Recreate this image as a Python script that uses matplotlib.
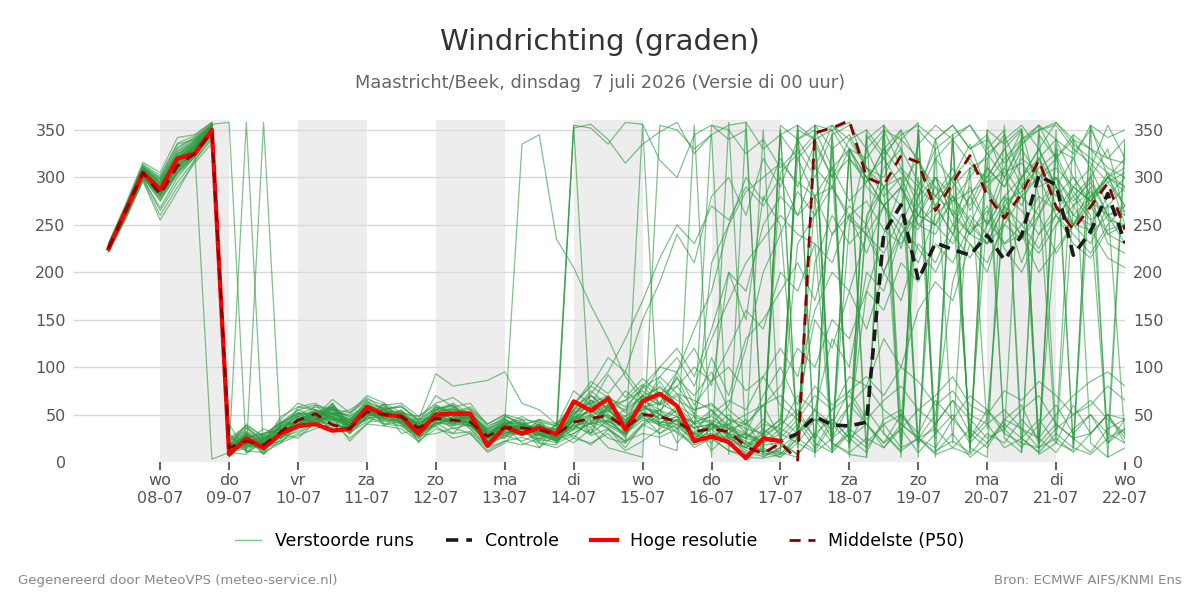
import matplotlib
matplotlib.use("Agg")
import matplotlib.pyplot as plt
from matplotlib.lines import Line2D

# ---------------- data ----------------
# time in days since 07-07-2026 00:00, 6-hourly steps starting 07-07 06:00
times = [0.25 + 0.25 * i for i in range(60)]

tick_days = list(range(1, 16))
tick_labels = ["wo\n08-07", "do\n09-07", "vr\n10-07", "za\n11-07", "zo\n12-07",
               "ma\n13-07", "di\n14-07", "wo\n15-07", "do\n16-07", "vr\n17-07",
               "za\n18-07", "zo\n19-07", "ma\n20-07", "di\n21-07", "wo\n22-07"]
shade_days = [1, 3, 5, 7, 9, 11, 13]   # start of shaded day bands

hires = [225, 265, 305, 287, 320, 325, 350,
         8, 25, 15, 30, 38, 40, 33, 35, 58, 50, 48, 30, 50, 51, 51, 17, 37, 30, 36, 29,
         64, 54, 67, 34, 64, 72, 59, 22, 27, 21, 4, 25, 22]

control = [225, 265, 305, 287, 320, 325, 350,
           8, 25, 15, 30, 38, 40, 33, 35, 58, 50, 48, 30, 50, 51, 51, 17, 37, 30, 36, 29,
           64, 54, 67, 34, 64, 72, 59, 22, 27, 21, 4, 25,
           22, 30, 48, 39, 38, 42, 241, 271, 192, 231, 224, 218, 239, 213, 239, 302,
           292, 218, 243, 283, 231]

median = [225, 265, 305, 282, 312, 325, 348,
          15, 22, 18, 32, 44, 51, 39, 35, 53, 50, 48, 36, 46, 44, 42, 27, 36, 36, 34, 29,
          42, 46, 49, 36, 50, 48, 42, 32, 35, 32, 16, 9,
          20, 2, 347, 352, 360, 300, 292, 323, 316, 265, 294, 323, 281, 257, 283, 318,
          269, 245, 269, 294, 245]

# perturbed ensemble members (wind direction, degrees)
m01 = [228, 266, 306, 290, 318, 330, 352,
       12, 30, 8, 40, 52, 38, 60, 30, 48, 62, 40, 22, 55, 60, 35, 15, 42, 28, 45, 20,
       55, 30, 70, 40, 62, 85, 58, 30, 20, 45, 15, 30,
       45, 320, 280, 20, 250, 330, 290, 15, 280, 340, 270, 30, 260, 310, 350, 280, 20, 270, 300, 330, 260]
m02 = [225, 262, 300, 282, 310, 328, 348,
       20, 15, 25, 28, 58, 55, 45, 42, 65, 45, 55, 30, 50, 38, 55, 30, 25, 45, 22, 40,
       35, 60, 48, 25, 70, 40, 55, 22, 40, 30, 8, 12,
       10, 5, 355, 350, 358, 310, 300, 340, 320, 270, 300, 335, 285, 260, 300, 320, 270, 250, 275, 305, 250]
m03 = [230, 270, 312, 300, 335, 340, 355,
       25, 32, 18, 22, 35, 45, 42, 30, 60, 38, 52, 20, 42, 30, 48, 18, 38, 20, 15, 42,
       25, 48, 35, 15, 40, 55, 20, 42, 12, 30, 45, 10,
       20, 40, 15, 45, 25, 10, 45, 55, 20, 40, 65, 30, 15, 45, 60, 20, 40, 25, 10, 35, 45]
m04 = [222, 258, 298, 268, 300, 322, 345,
       5, 22, 15, 20, 40, 48, 35, 32, 58, 40, 38, 25, 60, 48, 45, 22, 30, 38, 20, 18,
       48, 70, 55, 40, 80, 62, 90, 50, 110, 70, 130, 150,
       180, 210, 170, 240, 260, 220, 270, 290, 250, 240, 280, 255, 230, 270, 210, 260, 300, 250, 290, 240, 230]
m05 = [226, 264, 304, 288, 315, 332, 350,
       40, 10, 20, 30, 25, 42, 48, 22, 40, 55, 30, 35, 38, 25, 30, 10, 20, 40, 15, 30,
       20, 35, 15, 10, 5, 355, 350, 330, 345, 8, 358, 5,
       15, 350, 340, 10, 330, 320, 345, 5, 350, 330, 20, 310, 300, 330, 350, 15, 330, 320, 355, 300, 290]
m06 = [228, 268, 310, 295, 325, 338, 354,
       18, 35, 22, 45, 62, 55, 52, 50, 68, 55, 60, 42, 70, 58, 62, 38, 45, 30, 40, 28,
       60, 85, 72, 95, 70, 100, 120, 90, 140, 200, 180, 250,
       280, 260, 310, 290, 330, 300, 270, 290, 250, 270, 300, 320, 290, 310, 280, 260, 290, 250, 230, 270, 290]
m07 = [224, 263, 303, 285, 312, 330, 3,
       10, 8, 25, 35, 45, 40, 55, 38, 48, 52, 45, 28, 42, 55, 40, 25, 48, 42, 30, 22,
       45, 30, 60, 42, 68, 50, 35, 48, 25, 40, 18, 30,
       8, 30, 45, 20, 10, 25, 15, 40, 25, 10, 30, 5, 20, 45, 35, 15, 25, 10, 30, 50, 20]
m08 = [227, 265, 308, 292, 320, 335, 356,
       358, 10, 28, 25, 38, 60, 45, 45, 62, 48, 50, 40, 58, 50, 52, 32, 40, 48, 38, 34,
       50, 65, 45, 55, 70, 60, 80, 100, 85, 120, 160, 140,
       200, 180, 230, 210, 260, 240, 200, 250, 290, 270, 240, 280, 250, 300, 270, 320, 290, 260, 250, 280, 300]
m09 = [223, 260, 302, 280, 305, 325, 350,
       12, 358, 12, 38, 42, 50, 32, 40, 45, 58, 42, 30, 48, 35, 40, 20, 45, 32, 40, 25,
       30, 42, 58, 34, 48, 30, 40, 20, 35, 50, 30, 70,
       100, 60, 150, 120, 180, 140, 200, 170, 230, 210, 250, 230, 200, 260, 240, 220, 250, 270, 240, 260, 230]
m10 = [229, 268, 310, 298, 330, 342, 355,
       20, 12, 358, 25, 48, 42, 62, 35, 50, 60, 45, 40, 52, 40, 50, 30, 28, 40, 25, 35,
       44, 55, 40, 30, 60, 45, 55, 25, 40, 20, 30, 15,
       345, 355, 10, 350, 5, 340, 355, 330, 20, 320, 340, 355, 330, 350, 10, 345, 320, 340, 310, 355, 320]
m11 = [225, 263, 302, 284, 310, 326, 348,
       15, 28, 10, 30, 38, 52, 48, 40, 54, 45, 52, 33, 55, 62, 50, 35, 42, 335, 345, 235,
       205, 165, 130, 90, 65, 80, 60, 40, 55, 35, 25, 45,
       30, 50, 25, 55, 70, 40, 20, 35, 55, 40, 65, 45, 25, 35, 55, 70, 40, 25, 30, 50, 45]
m12 = [226, 266, 306, 290, 316, 330, 352,
       14, 24, 30, 34, 50, 58, 55, 48, 62, 56, 58, 45, 93, 80, 83, 86, 95, 62, 55, 40,
       55, 75, 60, 65, 82, 70, 95, 60, 85, 100, 75, 90,
       60, 45, 70, 55, 90, 80, 130, 100, 160, 190, 170, 230, 210, 250, 235, 260, 220, 250, 270, 240, 250]
m13 = [227, 264, 305, 287, 318, 332, 351,
       16, 20, 28, 42, 40, 45, 58, 38, 55, 52, 46, 42, 44, 50, 38, 28, 35, 40, 32, 38,
       355, 352, 335, 358, 356, 318, 300, 345, 355, 350, 325, 340,
       310, 330, 300, 345, 355, 330, 350, 310, 290, 330, 345, 355, 325, 300, 340, 355, 320, 345, 330, 310, 300]
m14 = [221, 256, 296, 255, 285, 318, 340,
       25, 38, 28, 42, 55, 48, 66, 52, 70, 62, 52, 48, 62, 68, 55, 40, 50, 38, 45, 40,
       60, 80, 110, 95, 150, 190, 240, 210, 280, 300, 260, 320,
       290, 340, 310, 355, 330, 300, 320, 290, 260, 300, 280, 250, 290, 260, 300, 330, 290, 320, 280, 300, 270]
m15 = [224, 262, 300, 275, 305, 322, 346,
       10, 18, 14, 26, 32, 42, 40, 36, 44, 46, 40, 30, 40, 46, 38, 20, 28, 32, 22, 24,
       355, 40, 25, 20, 356, 18, 12, 355, 5, 358, 20, 350,
       15, 355, 5, 345, 20, 350, 30, 10, 355, 5, 345, 15, 5, 355, 25, 10, 350, 15, 355, 5, 15]
m16 = [230, 272, 316, 305, 342, 345, 358,
       22, 38, 20, 48, 58, 62, 50, 55, 66, 60, 62, 48, 60, 52, 58, 40, 50, 45, 42, 38,
       75, 60, 92, 68, 88, 72, 80, 55, 62, 45, 40, 60,
       70, 50, 80, 60, 75, 45, 65, 80, 55, 70, 90, 60, 50, 75, 65, 85, 70, 50, 60, 80, 65]
m17 = [226, 265, 307, 289, 322, 336, 353,
       14, 22, 12, 28, 45, 40, 52, 44, 54, 42, 46, 26, 40, 48, 42, 22, 30, 34, 28, 26,
       40, 28, 35, 20, 38, 50, 30, 18, 25, 12, 8, 15,
       5, 20, 10, 25, 40, 180, 240, 290, 320, 280, 310, 265, 300, 330, 290, 320, 340, 300, 270, 300, 320]
m18 = [228, 267, 311, 296, 328, 340, 356,
       18, 26, 30, 34, 44, 55, 48, 42, 58, 48, 52, 38, 46, 56, 48, 30, 38, 30, 40, 30,
       50, 70, 62, 55, 80, 100, 95, 140, 180, 250, 300, 275,
       320, 290, 335, 300, 340, 310, 280, 300, 260, 290, 250, 280, 310, 290, 330, 300, 320, 280, 300, 260, 270]
m19 = [223, 259, 299, 265, 295, 318, 342,
       8, 20, 16, 22, 30, 40, 36, 32, 42, 44, 38, 28, 30, 36, 30, 12, 22, 26, 20, 15,
       25, 20, 30, 12, 22, 35, 45, 30, 55, 25, 15, 35,
       20, 8, 30, 45, 25, 40, 15, 35, 10, 30, 50, 20, 40, 15, 25, 45, 20, 60, 30, 50, 25]
m20 = [227, 266, 309, 294, 324, 337, 355,
       16, 30, 20, 36, 44, 44, 58, 45, 60, 50, 48, 40, 52, 56, 46, 28, 42, 30, 38, 32,
       45, 62, 50, 38, 65, 55, 70, 40, 355, 340, 350, 10,
       350, 20, 355, 330, 15, 345, 320, 350, 5, 340, 355, 330, 345, 300, 335, 355, 340, 325, 350, 320, 340]
m21 = [225, 263, 304, 286, 313, 329, 349,
       13, 16, 22, 28, 36, 50, 42, 34, 50, 55, 44, 34, 48, 40, 46, 30, 40, 42, 30, 28,
       43, 36, 58, 30, 55, 40, 48, 28, 42, 25, 30, 20,
       35, 25, 210, 260, 230, 250, 200, 240, 210, 260, 280, 240, 265, 225, 200, 240, 270, 250, 280, 230, 220]
m22 = [229, 269, 313, 299, 332, 342, 357,
       20, 18, 30, 40, 52, 48, 60, 40, 52, 58, 50, 36, 56, 45, 52, 34, 46, 34, 42, 32,
       55, 72, 95, 130, 170, 215, 250, 230, 270, 255, 290, 270,
       300, 260, 280, 240, 270, 250, 290, 310, 270, 300, 260, 240, 230, 250, 280, 300, 260, 240, 220, 250, 270]
m23 = [224, 261, 301, 279, 307, 324, 347,
       11, 25, 8, 24, 40, 38, 46, 30, 48, 40, 42, 25, 38, 48, 35, 18, 28, 22, 30, 22,
       30, 42, 36, 22, 40, 30, 45, 20, 35, 18, 10, 6,
       15, 30, 55, 40, 75, 90, 70, 100, 85, 60, 75, 50, 40, 55, 35, 25, 50, 70, 85, 95, 80]
m24 = [228, 267, 309, 293, 321, 334, 352,
       17, 40, 26, 38, 48, 54, 50, 46, 56, 60, 48, 42, 50, 58, 48, 34, 44, 40, 32, 35,
       52, 65, 58, 48, 70, 60, 72, 50, 42, 30, 22, 10,
       355, 340, 350, 310, 330, 290, 270, 240, 260, 250, 290, 310, 320, 345, 300, 330, 290, 260, 280, 300, 310]
m25 = [222, 257, 297, 260, 290, 315, 336,
       30, 12, 10, 20, 28, 35, 40, 25, 40, 38, 35, 22, 35, 30, 32, 15, 22, 18, 25, 20,
       28, 18, 34, 22, 30, 26, 35, 15, 25, 12, 5, 4,
       8, 25, 12, 40, 20, 55, 30, 12, 25, 8, 15, 35, 20, 40, 25, 10, 30, 15, 8, 25, 35]
m26 = [226, 264, 305, 287, 316, 331, 350,
       15, 28, 16, 30, 42, 54, 45, 42, 58, 46, 54, 40, 52, 60, 46, 30, 34, 38, 28, 32,
       46, 55, 42, 48, 60, 45, 58, 35, 50, 65, 55, 90,
       120, 90, 160, 200, 180, 240, 220, 260, 245, 280, 265, 240, 270, 230, 250, 225, 260, 280, 255, 270, 260]
m27 = [227, 266, 307, 291, 319, 333, 351,
       17, 22, 35, 28, 46, 44, 58, 36, 52, 56, 45, 38, 46, 50, 40, 26, 38, 35, 38, 26,
       352, 356, 340, 315, 335, 348, 358, 325, 345, 355, 358, 330,
       345, 320, 340, 300, 320, 295, 330, 350, 315, 290, 275, 300, 325, 340, 355, 330, 358, 335, 320, 305, 290]
m28 = [225, 264, 303, 283, 309, 327, 348,
       14, 18, 24, 30, 38, 46, 44, 38, 52, 50, 42, 34, 44, 42, 50, 24, 30, 36, 28, 22,
       40, 50, 38, 28, 52, 42, 48, 25, 38, 22, 15, 25,
       40, 230, 260, 290, 255, 240, 270, 225, 280, 300, 260, 290, 250, 280, 235, 270, 300, 275, 295, 260, 245]
m29 = [229, 268, 311, 297, 327, 339, 354,
       22, 30, 18, 42, 50, 46, 62, 40, 60, 52, 48, 44, 56, 60, 46, 26, 42, 38, 30, 36,
       58, 70, 55, 65, 75, 62, 88, 70, 95, 55, 40, 60,
       25, 45, 20, 10, 30, 15, 40, 50, 25, 35, 15, 8, 30, 20, 45, 25, 10, 35, 50, 30, 20]
m30 = [224, 262, 302, 282, 311, 328, 349,
       13, 20, 14, 26, 36, 44, 40, 35, 46, 48, 40, 30, 44, 42, 38, 22, 32, 28, 35, 24,
       38, 30, 44, 28, 50, 38, 32, 20, 28, 35, 18, 12,
       8, 355, 340, 350, 320, 300, 270, 250, 225, 200, 240, 215, 250, 280, 265, 240, 260, 230, 215, 245, 250]
m31 = [226, 265, 306, 289, 317, 331, 351,
       26, 16, 20, 32, 40, 52, 46, 44, 50, 55, 46, 34, 50, 44, 52, 28, 36, 30, 40, 26,
       45, 65, 52, 75, 60, 90, 110, 80, 130, 170, 210, 235,
       260, 240, 230, 15, 30, 255, 310, 330, 295, 280, 300, 25, 45, 270, 290, 310, 325, 285, 260, 20, 35]
m32 = [223, 260, 300, 276, 303, 321, 344,
       11, 14, 20, 28, 36, 40, 48, 34, 46, 50, 42, 28, 40, 46, 40, 20, 26, 32, 24, 28,
       35, 48, 40, 30, 52, 38, 44, 25, 40, 28, 12, 8,
       12, 340, 355, 20, 8, 5, 350, 340, 358, 12, 22, 10, 350, 335, 352, 8, 20, 12, 355, 342, 350]
m33 = [228, 268, 309, 294, 323, 336, 354,
       18, 32, 24, 38, 52, 48, 56, 48, 58, 52, 54, 44, 50, 42, 52, 32, 40, 35, 38, 28,
       52, 58, 65, 42, 62, 70, 60, 48, 40, 35, 25, 40,
       35, 70, 55, 130, 100, 200, 180, 240, 270, 250, 230, 260, 240, 275, 285, 300, 310, 290, 275, 260, 265]
m34 = [227, 265, 307, 290, 320, 334, 352,
       16, 26, 12, 34, 48, 46, 55, 36, 56, 48, 50, 35, 48, 52, 44, 30, 40, 45, 30, 30,
       48, 40, 60, 45, 55, 70, 50, 42, 48, 35, 40, 28,
       40, 55, 25, 330, 345, 310, 290, 270, 335, 355, 340, 315, 295, 320, 340, 350, 355, 330, 315, 295, 305]
m35 = [224, 263, 303, 281, 308, 326, 347,
       12, 18, 24, 30, 40, 40, 50, 32, 52, 44, 44, 30, 42, 38, 44, 25, 32, 28, 34, 22,
       35, 50, 42, 36, 48, 55, 38, 30, 40, 28, 20, 18,
       20, 8, 30, 12, 35, 20, 40, 15, 25, 50, 190, 245, 255, 230, 240, 200, 225, 250, 245, 215, 205]
m36 = [230, 270, 314, 302, 336, 344, 358,
       21, 36, 25, 40, 55, 60, 56, 52, 64, 56, 58, 45, 58, 52, 56, 36, 48, 40, 44, 38,
       62, 80, 68, 58, 78, 90, 72, 65, 55, 38, 30, 22,
       305, 325, 345, 355, 340, 350, 325, 345, 355, 340, 355, 330, 340, 315, 335, 350, 358, 340, 330, 320, 315]
m37 = [225, 264, 304, 285, 314, 329, 349,
       14, 24, 20, 28, 46, 50, 44, 40, 54, 52, 46, 32, 46, 50, 44, 26, 36, 30, 36, 24,
       44, 55, 48, 40, 58, 50, 42, 30, 210, 250, 285, 300,
       315, 295, 280, 290, 260, 275, 245, 230, 260, 250, 275, 285, 295, 305, 315, 290, 300, 270, 285, 255, 250]
m38 = [226, 266, 306, 288, 318, 332, 351,
       16, 30, 22, 36, 38, 52, 50, 44, 56, 46, 50, 38, 52, 46, 48, 28, 40, 36, 30, 34,
       42, 40, 55, 38, 52, 46, 44, 36, 40, 30, 25, 20,
       30, 20, 45, 35, 60, 80, 55, 40, 25, 15, 45, 70, 55, 30, 20, 15, 35, 50, 65, 45, 30]
m39 = [225, 265, 306, 286, 316, 329, 350,
       15, 22, 26, 30, 46, 42, 52, 36, 50, 54, 46, 36, 50, 54, 46, 28, 34, 40, 28, 30,
       40, 58, 46, 35, 60, 50, 95, 120, 80, 200, 150, 280,
       250, 30, 280, 310, 20, 260, 290, 300, 15, 270, 240, 310, 35, 280, 300, 20, 250, 290, 310, 270, 25]
m40 = [227, 266, 308, 291, 320, 334, 353,
       18, 26, 20, 38, 44, 50, 54, 40, 58, 50, 50, 38, 48, 52, 50, 30, 38, 36, 34, 30,
       48, 52, 60, 44, 58, 62, 52, 40, 44, 36, 28, 22,
       350, 15, 340, 20, 330, 15, 355, 40, 300, 25, 345, 10, 320, 30, 350, 20, 335, 15, 310, 25, 340]
m41 = [224, 263, 304, 284, 312, 327, 348,
       13, 20, 18, 32, 42, 46, 48, 38, 50, 48, 44, 32, 46, 44, 42, 24, 34, 30, 32, 26,
       38, 44, 50, 36, 46, 42, 40, 28, 36, 40, 50, 60,
       80, 120, 100, 150, 130, 180, 160, 210, 190, 230, 210, 250, 230, 270, 250, 280, 265, 290, 275, 300, 285]
m42 = [228, 267, 309, 294, 324, 338, 355,
       20, 28, 22, 36, 50, 52, 58, 42, 60, 54, 52, 40, 54, 56, 52, 32, 42, 40, 36, 32,
       55, 62, 70, 52, 70, 78, 65, 55, 60, 45, 35, 30,
       45, 30, 55, 25, 60, 40, 20, 50, 30, 65, 45, 25, 55, 35, 15, 40, 60, 30, 50, 20, 45]
m43 = [226, 264, 305, 288, 317, 331, 351,
       15, 24, 20, 32, 42, 48, 52, 40, 54, 50, 46, 34, 48, 50, 46, 28, 36, 34, 32, 28,
       44, 50, 54, 40, 56, 54, 48, 36, 40, 60, 120, 200,
       240, 285, 260, 310, 275, 295, 330, 305, 280, 320, 295, 270, 310, 290, 320, 305, 280, 300, 275, 295, 270]
m44 = [223, 260, 301, 278, 306, 323, 346,
       11, 19, 16, 28, 38, 44, 48, 36, 50, 46, 42, 30, 42, 40, 38, 22, 32, 30, 28, 24,
       34, 40, 44, 30, 44, 40, 36, 26, 30, 25, 15, 10,
       5, 25, 350, 10, 330, 5, 355, 20, 345, 30, 340, 15, 350, 25, 10, 355, 30, 345, 20, 5, 335]

members = [m01, m02, m03, m04, m05, m06, m07, m08, m09, m10, m11, m12, m13, m14, m15,
           m16, m17, m18, m19, m20, m21, m22, m23, m24, m25, m26, m27, m28, m29, m30,
           m31, m32, m33, m34, m35, m36, m37, m38, m39, m40, m41, m42, m43, m44]

for k, m in enumerate(members):
    if len(m) != len(times):
        raise ValueError(f"member {k+1} has {len(m)} values")
for name, s in (("control", control), ("median", median)):
    if len(s) != len(times):
        raise ValueError(f"{name} has {len(s)} values")

# ---------------- figure ----------------
fig = plt.figure(figsize=(12, 6), dpi=100)
ax = fig.add_axes([0.0617, 0.23, 0.8758, 0.5692])

GREEN = "#2b9a40"
for d in shade_days:
    ax.axvspan(d, d + 1, ymin=0, ymax=1, color="#ededed", zorder=0, lw=0)

for yv in [50, 100, 150, 200, 250, 300, 350]:
    ax.axhline(yv, color="#d9d9d9", lw=1, zorder=1)
ax.axhline(0, color="#f2f2f2", lw=1, zorder=1)

for m in members:
    ax.plot(times, m, color=GREEN, lw=0.9, alpha=0.6, zorder=2)

ax.plot(times[:len(control)], control, color="#1a1a1a", lw=2.6, ls=(0, (3.2, 2.0)), zorder=3)
ax.plot(times[:len(hires)], hires, color="#ff0000", lw=3.0, zorder=4)
ax.plot(times[:len(median)], median, color="#8b0000", lw=2.0, ls=(0, (4, 3)), zorder=5)

ax.set_xlim(-0.25, 15)
ax.set_ylim(0, 360)
ax.set_xticks(tick_days)
ax.set_xticklabels(tick_labels)
ax.set_yticks([0, 50, 100, 150, 200, 250, 300, 350])
ax.tick_params(axis="x", color="#666666", labelsize=11.5, length=6, width=1.5, pad=2,
               labelcolor="#555555")
ax.tick_params(axis="y", length=0, labelsize=11.5, labelcolor="#555555",
               labelleft=True, labelright=True, pad=6)
for s in ax.spines.values():
    s.set_visible(False)

fig.text(0.5, 0.93, "Windrichting (graden)", ha="center", va="center",
         fontsize=21, color="#333333")
fig.text(0.5, 0.862, "Maastricht/Beek, dinsdag  7 juli 2026 (Versie di 00 uur)",
         ha="center", va="center", fontsize=12.75, color="#666666")

handles = [Line2D([], [], color="#7cc48a", lw=1.0),
           Line2D([], [], color="#1a1a1a", lw=2.6, ls=(0, (3.4, 2.2))),
           Line2D([], [], color="#ff0000", lw=3.0),
           Line2D([], [], color="#8b0000", lw=2.0, ls=(0, (4.0, 2.8)))]
labels = ["Verstoorde runs", "Controle", "Hoge resolutie", "Middelste (P50)"]
fig.legend(handles, labels, loc="center", bbox_to_anchor=(0.5, 0.098), ncol=4,
           frameon=False, fontsize=12.5, handlelength=1.5, columnspacing=1.85,
           handletextpad=0.75)

fig.text(0.015, 0.033, "Gegenereerd door MeteoVPS (meteo-service.nl)", ha="left",
         va="center", fontsize=9.5, color="#888888")
fig.text(0.985, 0.033, "Bron: ECMWF AIFS/KNMI Ens", ha="right", va="center",
         fontsize=9.5, color="#888888")

fig.savefig("out.png", dpi=100)
